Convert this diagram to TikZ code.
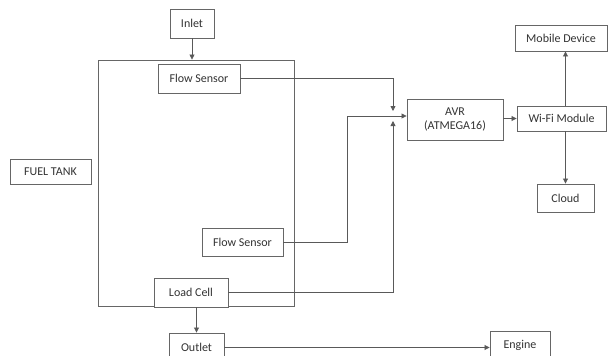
\documentclass[tikz,border=0pt]{standalone}
\usepackage{fontspec}
\setmainfont{Carlito}
\usetikzlibrary{arrows.meta,positioning,calc}

\begin{document}
\begin{tikzpicture}[
  x=1pt, y=-1pt,
  >={Triangle[length=5pt,width=5pt]},
  box/.style={rectangle, draw=black!60, line width=0.9pt, fill=white,
    text=black!80, inner sep=1pt, align=center,
    font=\fontsize{12}{14}\selectfont},
  wire/.style={draw=black!65, line width=0.8pt},
]
  \useasboundingbox (0,0) rectangle (608,356);
  % tank outline
  \node[box, minimum width=196pt, minimum height=246pt] (tank) at (196,183) {};
  \node[box, minimum width=44pt, minimum height=29pt] (inlet) at (192,23.5) {Inlet};
  \node[box, minimum width=82pt, minimum height=29pt] (flowA) at (199,78.5) {Flow Sensor};
  \node[box, minimum width=81pt, minimum height=25pt] (fuel) at (50.5,171.5) {FUEL TANK};
  \node[box, minimum width=81pt, minimum height=28pt] (flowB) at (242.5,242) {Flow Sensor};
  \node[box, minimum width=74pt, minimum height=29pt] (load) at (191,292.5) {Load Cell};
  \node[box, minimum width=55pt, minimum height=29pt] (outlet) at (196.5,347.5) {Outlet};
  \node[box, minimum width=60pt, minimum height=29pt] (engine) at (520,345.5) {Engine};
  \node[box, minimum width=96pt, minimum height=41pt] (avr) at (455,119.5) {AVR\\(ATMEGA16)};
  \node[box, minimum width=89pt, minimum height=25pt] (wifi) at (561.5,118.5) {Wi-Fi Module};
  \node[box, minimum width=92pt, minimum height=26pt] (mobile) at (561,38) {Mobile Device};
  \node[box, minimum width=57pt, minimum height=28pt] (cloud) at (565.5,198) {Cloud};
  % junction in front of the AVR
  \coordinate (jA) at (393,111);
  \coordinate (jB) at (393,121);
  \coordinate (bend) at (347,116);
  \draw[wire,->] (inlet.south) -- (inlet.south |- tank.north);
  \draw[wire,->] (flowA.east) -| (jA);
  \draw[wire,->] (load.east) -| (jB);
  \draw[wire,->] (flowB.east) -| (bend) -- (bend -| avr.west);
  \draw[wire,->] (avr.east |- wifi.west) -- (wifi.west);
  \draw[wire,->] (cloud.north |- wifi.north) -- (cloud.north |- mobile.south);
  \draw[wire,->] (cloud.north |- wifi.south) -- (cloud.north);
  \draw[wire,->] (outlet.north |- load.south) -- (outlet.north);
  \draw[wire,->] (outlet.east) -- (outlet.east -| engine.west);
\end{tikzpicture}
\end{document}
